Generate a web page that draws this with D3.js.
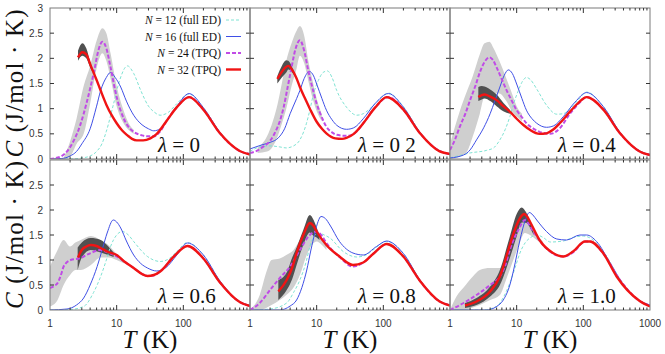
<!DOCTYPE html>
<html>
<head>
<meta charset="utf-8">
<script src="https://cdn.jsdelivr.net/npm/d3@7"></script>
<style>
  body { margin: 0; background: #fff; }
  svg { display: block; }
</style>
</head>
<body>
<svg id="chart" width="665" height="354"></svg>
<script>
  // panel labels (lambda), axis ticks
  const lambdas = ['0', '0 2', '0.4', '0.6', '0.8', '1.0'];
  const xTicks = [1, 10, 100, 1000];
  const yTicks = [0, 0.5, 1, 1.5, 2, 2.5, 3];
  const legendSizes = ['12', '16', '24', '32'];
  const legendKinds = ['(full ED)', '(full ED)', '(TPQ)', '(TPQ)'];

  // curves, one list of [T, C] per panel (lambda order)
  const n12 = [
    [[1,0],[2,0],[3,0.02],[4,0.06],[5,0.15],[6,0.3],[7,0.55],[9,1.1],[11,1.55],[14.5,1.85],[18,1.7],[23,1.36],[30,1.05],[36,0.94],[45,0.87],[60,0.93],[80,1.1],[122,1.29],[200,1.02],[355,0.53],[700,0.16],[1000,0.08]],
    [[1,0.15],[1.4,0.24],[2,0.26],[2.8,0.24],[3.5,0.22],[4.5,0.26],[5.6,0.38],[7,0.7],[7.9,0.97],[9,1.3],[10.6,1.56],[12.5,1.72],[14.5,1.75],[17,1.62],[20,1.36],[28,1.03],[40,0.87],[50,0.9],[63,1.0],[85,1.17],[119,1.31],[200,1.04],[355,0.53],[700,0.16],[1000,0.09]],
    [[1,0.02],[1.5,0.08],[2,0.12],[3.5,0.17],[4.5,0.22],[5.6,0.38],[6.7,0.58],[7.9,0.84],[9,1.1],[10.6,1.36],[12.3,1.55],[14,1.62],[16,1.58],[20,1.39],[28,1.07],[40,0.89],[50,0.9],[63,1.0],[85,1.18],[112,1.33],[200,1.04],[355,0.53],[700,0.16],[1000,0.08]],
    [[1,0],[2,0.01],[3.2,0.07],[4.5,0.35],[5.75,0.67],[7,1.0],[8.1,1.27],[10,1.5],[12.2,1.57],[15,1.5],[18,1.37],[29,1.07],[45,0.97],[60,1.02],[80,1.17],[115,1.35],[200,1.1],[355,0.58],[700,0.17],[1000,0.09]],
    [[1,0],[2,0.02],[3.55,0.14],[4.5,0.35],[5.6,0.6],[7,0.98],[7.9,1.27],[9,1.46],[10.6,1.54],[13,1.5],[15.8,1.44],[25,1.17],[40,1.06],[55,1.1],[70,1.2],[112,1.37],[200,1.13],[355,0.6],[700,0.18],[1000,0.1]],
    [[1,0],[3,0],[5,0.07],[6.3,0.25],[7.9,0.54],[9.5,0.85],[11.2,1.14],[13.5,1.35],[15.8,1.44],[20,1.5],[25,1.45],[32,1.36],[50,1.38],[70,1.45],[100,1.48],[140,1.4],[200,1.17],[355,0.62],[700,0.18],[1000,0.1]]
  ];
  const n16 = [
    [[1,0],[1.5,0.01],[2,0.06],[2.5,0.15],[3,0.3],[4,0.6],[5,1.05],[5.75,1.36],[7,1.62],[8.1,1.72],[9.5,1.62],[11.5,1.43],[14,1.15],[18,0.87],[24,0.68],[30,0.6],[36,0.56],[45,0.6],[57,0.77],[80,1.05],[122,1.3],[200,1.02],[355,0.53],[700,0.16],[1000,0.09]],
    [[1,0.2],[1.5,0.28],[2,0.33],[2.66,0.42],[3.3,0.6],[4,0.9],[5,1.2],[5.6,1.36],[6.5,1.6],[7.8,1.74],[9,1.65],[10,1.49],[12,1.2],[14,0.97],[17,0.78],[20,0.67],[28,0.59],[36,0.62],[50,0.8],[75,1.1],[119,1.3],[200,1.03],[355,0.53],[700,0.16],[1000,0.09]],
    [[1,0.02],[1.6,0.08],[2,0.18],[2.5,0.38],[3.2,0.62],[4,0.9],[4.7,1.15],[5.6,1.43],[6.5,1.66],[7.5,1.77],[8.6,1.7],[10,1.49],[12,1.2],[14,0.97],[17,0.8],[20,0.71],[28,0.63],[36,0.66],[50,0.84],[75,1.13],[112,1.32],[200,1.04],[355,0.53],[700,0.16],[1000,0.09]],
    [[1,0],[1.8,0.02],[2.5,0.1],[3.2,0.24],[4,0.5],[5.1,0.87],[6.2,1.25],[7.2,1.54],[8.9,1.8],[10,1.76],[11.5,1.64],[14,1.38],[18,1.1],[23,0.93],[29,0.84],[40,0.78],[55,0.85],[80,1.1],[115,1.34],[200,1.1],[355,0.58],[700,0.17],[1000,0.09]],
    [[1,0],[2.8,0],[4,0.08],[5,0.2],[6,0.45],[7.1,0.8],[8.2,1.2],[9.4,1.54],[10.5,1.77],[11.6,1.87],[13.5,1.83],[15.8,1.7],[22,1.37],[35,1.14],[50,1.1],[79,1.27],[112,1.38],[200,1.13],[355,0.6],[700,0.18],[1000,0.1]],
    [[1,0],[3.5,0],[5,0.07],[6.3,0.2],[7.9,0.5],[9,0.8],[11.2,1.4],[13.5,1.8],[15.5,1.95],[17.5,1.9],[20,1.8],[28,1.57],[40,1.42],[56,1.4],[89,1.5],[112,1.5],[158,1.37],[250,0.95],[400,0.5],[700,0.19],[1000,0.1]]
  ];
  const n24 = [
    [[1,0],[1.45,0.05],[1.8,0.15],[2.3,0.38],[2.8,0.65],[3.2,0.9],[4,1.4],[4.6,1.75],[5.3,2.15],[6.1,2.33],[7,2.2],[8.1,1.82],[10,1.23],[12.8,0.8],[15,0.64],[18,0.54],[24,0.47],[29,0.45],[36,0.45],[45,0.55],[57,0.77],[80,1.03],[122,1.23],[200,0.98],[355,0.51],[700,0.16],[1000,0.1]],
    [[1,0.12],[1.3,0.17],[1.6,0.25],[2,0.36],[2.4,0.54],[2.8,0.75],[3.2,1.03],[3.7,1.45],[4.2,1.82],[4.8,2.18],[5.6,2.36],[6.5,2.15],[7.5,1.75],[8.7,1.4],[10,1.1],[12,0.82],[14,0.64],[17,0.53],[20,0.48],[29,0.46],[40,0.55],[50,0.71],[75,1.02],[119,1.23],[200,0.98],[355,0.51],[700,0.16],[1000,0.1]],
    [[1,0.18],[1.2,0.4],[1.4,0.64],[1.7,0.9],[2,1.17],[2.4,1.45],[2.8,1.72],[3.3,1.93],[3.9,2.02],[4.4,1.97],[5,1.82],[6,1.58],[7.1,1.36],[8.5,1.15],[10,0.97],[12,0.83],[14,0.71],[18,0.6],[22,0.54],[32,0.5],[45,0.62],[63,0.9],[85,1.1],[112,1.23],[200,0.98],[355,0.51],[700,0.15],[1000,0.08]],
    [[1,0.44],[1.15,0.48],[1.3,0.54],[1.5,0.75],[1.6,0.87],[2.04,1.0],[2.9,1.04],[3.3,1.08],[4.1,1.14],[5.75,1.2],[7.5,1.15],[10,1.07],[13,0.97],[18,0.84],[24,0.72],[29,0.68],[36,0.69],[45,0.77],[72,1.07],[115,1.28],[200,1.03],[355,0.55],[700,0.16],[1000,0.08]],
    [[1,0],[1.4,0.14],[2,0.4],[2.8,0.64],[4,0.87],[5.6,1.2],[7.9,1.5],[10,1.57],[12,1.48],[14,1.34],[22,1.06],[35,0.87],[50,0.95],[70,1.12],[112,1.32],[200,1.07],[355,0.58],[700,0.17],[1000,0.09]],
    [[1,0],[1.6,0.14],[2.5,0.3],[4,0.5],[5.6,0.67],[6.7,0.88],[7.9,1.2],[9.3,1.45],[10.6,1.6],[13.3,1.8],[15,1.73],[17.8,1.57],[25,1.3],[35,1.13],[50,1.07],[70,1.15],[106,1.37],[126,1.37],[200,1.13],[355,0.6],[700,0.18],[1000,0.09]]
  ];
  const n32 = [
    [[2.63,2.02],[3.05,2.12],[3.5,2.08],[4.07,1.86],[5,1.57],[5.75,1.36],[7,1.08],[8.5,0.86],[10,0.71],[12,0.57],[14.5,0.47],[17,0.4],[20,0.37],[25,0.37],[32,0.41],[40,0.5],[57,0.77],[80,1.03],[122,1.23],[200,0.98],[355,0.51],[700,0.16],[1000,0.09]],
    [[2.57,1.59],[3,1.73],[3.4,1.82],[3.76,1.85],[4.3,1.77],[5,1.6],[5.6,1.43],[6.7,1.2],[7.9,1.0],[10,0.74],[12,0.6],[14,0.51],[19,0.41],[24,0.4],[28,0.42],[36,0.5],[50,0.71],[75,1.02],[112,1.23],[200,0.98],[355,0.51],[700,0.15],[1000,0.1]],
    [[2.66,1.23],[3,1.27],[3.3,1.28],[4,1.24],[5,1.17],[6.3,1.05],[7.9,0.94],[10,0.8],[12.5,0.68],[15.8,0.58],[22,0.5],[28,0.51],[35,0.58],[45,0.72],[63,0.94],[85,1.12],[112,1.23],[200,0.98],[355,0.51],[700,0.15],[1000,0.08]],
    [[2.63,1.05],[3,1.2],[3.5,1.27],[4.07,1.3],[5,1.28],[5.75,1.24],[7.5,1.16],[10,1.1],[13,0.97],[18,0.84],[24,0.72],[29,0.68],[36,0.7],[45,0.77],[72,1.07],[115,1.28],[200,1.03],[355,0.55],[700,0.16],[1000,0.08]],
    [[2.66,0.37],[3.55,0.6],[4.3,0.85],[5,1.14],[6.3,1.5],[7.9,1.74],[9,1.68],[10,1.57],[14,1.3],[22,1.07],[35,0.9],[50,0.95],[70,1.12],[112,1.32],[200,1.07],[355,0.58],[700,0.17],[1000,0.09]],
    [[1.68,0.09],[2.5,0.17],[4,0.37],[5.6,0.67],[7.5,1.2],[8.8,1.5],[10,1.7],[11.5,1.86],[12.9,1.92],[14.5,1.86],[15.8,1.77],[22,1.4],[35,1.14],[50,1.07],[70,1.17],[106,1.37],[126,1.37],[200,1.13],[316,0.67],[700,0.18],[1000,0.07]]
  ];
  // error bands, [T, lower, upper]
  const band24 = [
    [[1.6,0,0.02],[2,0.05,0.35],[2.5,0.3,0.8],[3.2,0.5,1.45],[4,1.1,1.85],[5,1.8,2.35],[6.1,2.1,2.6],[7,1.95,2.5],[8.1,1.6,2.1],[10,1.05,1.45],[12.8,0.7,0.95],[15,0.58,0.72],[18,0.5,0.58]],
    [[1.3,0.12,0.22],[1.8,0.15,0.45],[2.2,0.25,0.75],[2.6,0.45,1.1],[3,0.7,1.5],[3.5,1.0,1.95],[4.2,1.45,2.3],[5,1.8,2.55],[5.6,2.05,2.64],[6.5,1.9,2.45],[7.5,1.55,1.95],[8.7,1.2,1.55],[10,0.95,1.2],[12,0.75,0.88]],
    [[1,0,0.3],[1.4,0.05,0.95],[1.8,0.15,1.35],[2.2,0.45,1.65],[2.8,0.9,2.08],[3.3,1.25,2.3],[3.9,1.3,2.33],[4.5,1.3,2.2],[5.5,1.3,1.95],[7,1.15,1.6],[8.5,0.95,1.3],[10,0.85,1.05],[12,0.75,0.9]],
    [[1,0.07,0.87],[1.3,0.2,1.2],[1.6,0.5,1.4],[2,0.7,1.27],[2.4,0.8,1.35],[2.9,0.8,1.4],[4.1,0.9,1.48],[5.75,1.05,1.4],[7.5,1.05,1.3],[10,1.0,1.12],[13,0.93,1.0]],
    [[1,0,0],[1.4,0,0.3],[1.8,0.05,0.8],[2.1,0.1,1.0],[2.8,0.2,1.03],[3.5,0.3,1.1],[4.5,0.45,1.2],[5.6,0.7,1.4],[7.1,1.1,1.6],[8.5,1.3,1.67],[10,1.37,1.57],[12,1.3,1.45],[14,1.2,1.3]],
    [[1,0,0],[1.25,0,0.27],[1.6,0,0.45],[2.2,0.05,0.67],[2.8,0.1,0.8],[4,0.2,0.84],[5.6,0.3,0.84],[7,0.62,0.94],[8.9,1.0,1.34],[10.6,1.27,1.8],[13.3,1.54,1.98],[15.8,1.5,1.8],[20,1.4,1.53],[25,1.3,1.36]]
  ];
  const band32 = [
    [[2.63,1.95,2.15],[3.05,2.05,2.3],[3.5,2.0,2.2],[4.07,1.8,1.9],[4.5,1.7,1.72]],
    [[2.57,1.5,1.65],[3,1.62,1.85],[3.5,1.72,1.96],[3.76,1.78,1.95],[4.3,1.72,1.82],[5,1.58,1.62]],
    [[2.66,1.15,1.43],[3,1.18,1.45],[3.3,1.2,1.44],[4,1.15,1.38],[5,1.05,1.28],[6.3,0.95,1.12],[7.9,0.9,0.98]],
    [[2.6,0.8,1.25],[3,1.05,1.35],[4.07,1.2,1.44],[5.75,1.15,1.4],[7.5,1.1,1.27],[9,1.06,1.15]],
    [[2.66,0.2,0.6],[3.55,0.4,0.75],[4.3,0.62,1.05],[5,0.9,1.25],[6.3,1.3,1.6],[7.9,1.55,1.9],[9,1.48,1.8],[10,1.45,1.65],[11,1.4,1.5]],
    [[1.68,0.04,0.14],[2.5,0.1,0.24],[4,0.27,0.47],[5.6,0.5,0.8],[7.9,1.04,1.47],[10,1.47,1.92],[11.9,1.75,2.05],[14,1.74,1.94],[16.5,1.6,1.7],[18,1.5,1.55]]
  ];

  const serif = "'Liberation Serif', 'DejaVu Serif', serif";
  const sans = "'Liberation Sans', Arial, sans-serif";
  const styles = [
    {color: '#7fe3d3', width: 1, dash: '3,2'},
    {color: '#3f4fe6', width: 1, dash: null},
    {color: '#c04ce6', width: 2, dash: '4,2'},
    {color: '#f01414', width: 2.4, dash: null}
  ];
  const rows = [[159, 8], [310, 160]];

  const svg = d3.select('#chart');
  const defs = svg.append('defs');

  lambdas.forEach((lam, i) => {
    const c = i % 3, r = Math.floor(i / 3);
    const x0 = 50 + c * 200;
    const x = d3.scaleLog().domain([1, 1000]).range([x0, x0 + 200]);
    const y = d3.scaleLinear().domain([0, 3]).range(rows[r]);
    const g = svg.append('g');

    defs.append('clipPath').attr('id', 'clip' + i)
      .append('rect').attr('x', x0).attr('y', y(3)).attr('width', 200).attr('height', y(0) - y(3));
    const plot = g.append('g').attr('clip-path', `url(#clip${i})`);

    const area = d3.area().x(d => x(d[0])).y0(d => y(d[1])).y1(d => y(d[2])).curve(d3.curveMonotoneX);
    const line = d3.line().x(d => x(d[0])).y(d => y(d[1])).curve(d3.curveMonotoneX);

    plot.append('path').attr('d', area(band24[i])).attr('fill', '#cfcfcf');
    plot.append('path').attr('d', area(band32[i])).attr('fill', '#505050');

    [n12, n16, n24, n32].forEach((series, k) => {
      plot.append('path')
        .attr('d', line(series[i]))
        .attr('fill', 'none')
        .attr('stroke', styles[k].color)
        .attr('stroke-width', styles[k].width)
        .attr('stroke-dasharray', styles[k].dash);
    });

    // frame
    g.append('rect').attr('x', x0).attr('y', y(3)).attr('width', 200).attr('height', y(0) - y(3))
      .attr('fill', 'none').attr('stroke', '#7a7a7a').attr('stroke-width', 1);

    // ticks inside on all four sides
    const ticks = g.append('g').attr('stroke', '#333').attr('stroke-width', 1);
    yTicks.slice(1, -1).forEach(v => {
      ticks.append('line').attr('x1', x0).attr('x2', x0 + 4).attr('y1', y(v)).attr('y2', y(v));
      ticks.append('line').attr('x1', x0 + 200).attr('x2', x0 + 196).attr('y1', y(v)).attr('y2', y(v));
    });
    const minor = [];
    [1, 10, 100].forEach(d => { for (let m = 2; m <= 9; m++) minor.push(d * m); });
    minor.forEach(t => {
      ticks.append('line').attr('x1', x(t)).attr('x2', x(t)).attr('y1', y(0)).attr('y2', y(0) - 2.5);
      ticks.append('line').attr('x1', x(t)).attr('x2', x(t)).attr('y1', y(3)).attr('y2', y(3) + 2.5);
    });
    xTicks.slice(1, -1).forEach(t => {
      ticks.append('line').attr('x1', x(t)).attr('x2', x(t)).attr('y1', y(0)).attr('y2', y(0) - 5);
      ticks.append('line').attr('x1', x(t)).attr('x2', x(t)).attr('y1', y(3)).attr('y2', y(3) + 5);
    });

    // y tick labels on the left column
    if (c === 0) {
      const vals = r === 0 ? yTicks : yTicks.slice(0, -1);
      g.selectAll('text.yt').data(vals).join('text')
        .attr('x', x0 - 7).attr('y', v => y(v) + 3.5)
        .attr('text-anchor', 'end').attr('font-family', sans).attr('font-size', 10).attr('fill', '#333')
        .text(v => v);
      g.append('text')
        .attr('transform', `translate(23,${(y(0) + y(3)) / 2}) rotate(-90)`)
        .attr('text-anchor', 'middle').attr('font-family', serif).attr('font-size', 25).attr('fill', '#111')
        .attr('textLength', 148).attr('lengthAdjust', 'spacing')
        .call(t => t.append('tspan').attr('font-style', 'italic').text('C'))
        .call(t => t.append('tspan').text(' (J/mol · K)'));
    }

    // x tick labels on the bottom row
    if (r === 1) {
      const vals = c === 2 ? xTicks : xTicks.slice(0, -1);
      g.selectAll('text.xt').data(vals).join('text')
        .attr('x', t => x(t)).attr('y', 327)
        .attr('text-anchor', 'middle').attr('font-family', sans).attr('font-size', 10).attr('fill', '#333')
        .text(t => t);
      g.append('text')
        .attr('x', x0 + 100).attr('y', 348)
        .attr('text-anchor', 'middle').attr('font-family', serif).attr('font-size', 25).attr('fill', '#111')
        .call(t => t.append('tspan').attr('font-style', 'italic').text('T'))
        .call(t => t.append('tspan').text(' (K)'));
    }

    // lambda label
    g.append('text')
      .attr('x', x0 + 108).attr('y', y(0) - 7)
      .attr('font-family', serif).attr('font-size', 21).attr('fill', '#111')
      .call(t => t.append('tspan').attr('font-style', 'italic').text('λ'))
      .call(t => t.append('tspan').text(' = ' + lam));
  });

  // legend in the first panel
  const legend = svg.append('g');
  legendSizes.forEach((n, k) => {
    const yy = 20 + k * 16.5;
    legend.append('text')
      .attr('x', 221).attr('y', yy + 4)
      .attr('text-anchor', 'end').attr('font-family', serif).attr('font-size', 11.5).attr('fill', '#111')
      .call(t => t.append('tspan').attr('font-style', 'italic').text('N'))
      .call(t => t.append('tspan').text(` = ${n} ${legendKinds[k]}`));
    legend.append('line')
      .attr('x1', 226).attr('x2', 241).attr('y1', yy).attr('y2', yy)
      .attr('stroke', styles[k].color).attr('stroke-width', styles[k].width)
      .attr('stroke-dasharray', styles[k].dash);
  });
</script>
</body>
</html>
